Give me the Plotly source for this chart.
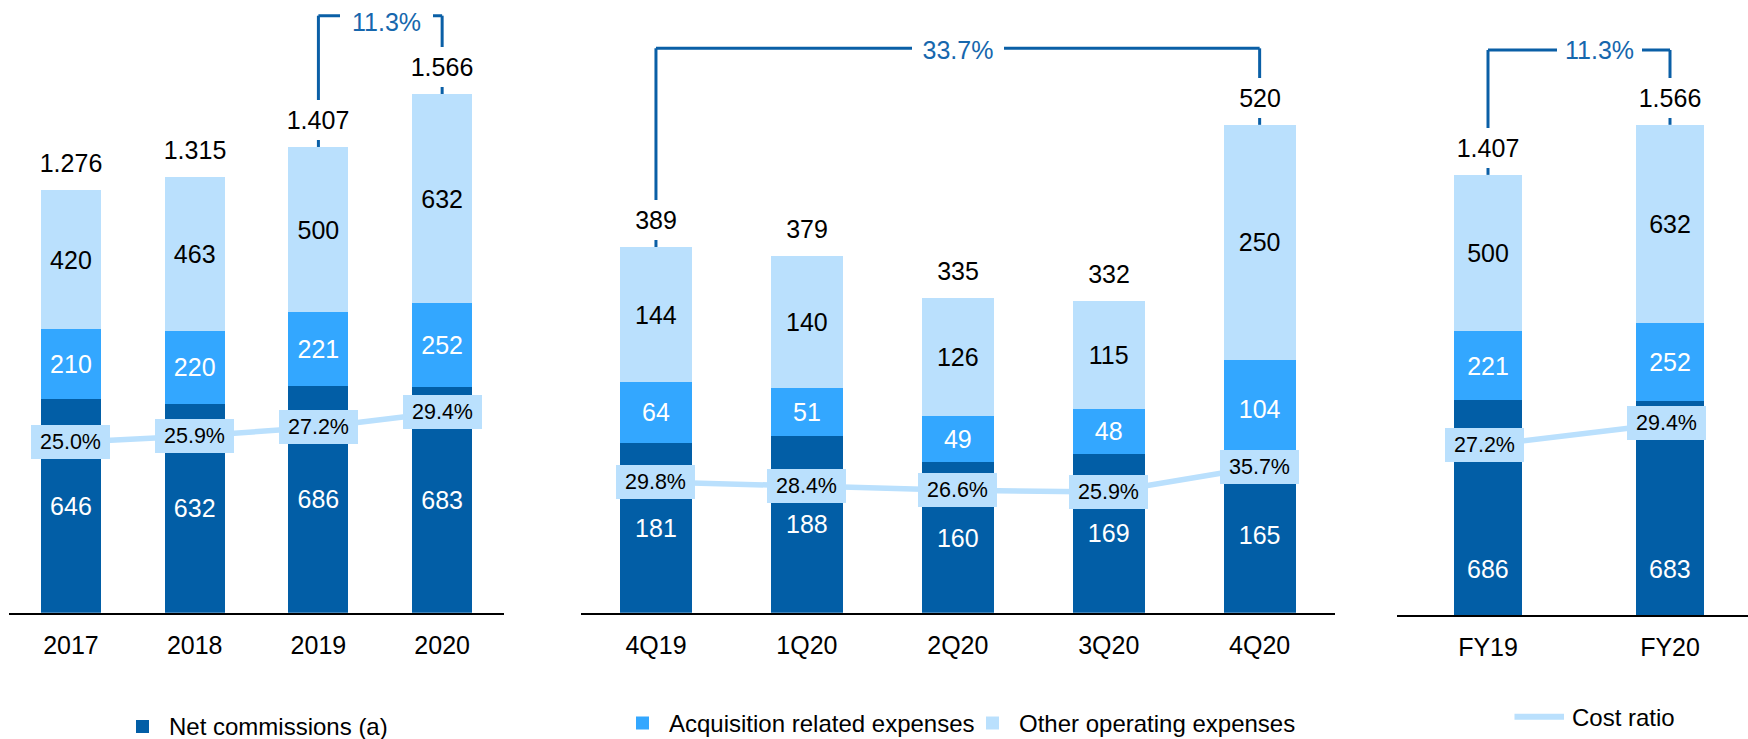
import plotly.graph_objects as go

# ---------------- data ----------------
years = ["2017", "2018", "2019", "2020"]
net_commissions_years = [646, 632, 686, 683]
acquisition_years = [210, 220, 221, 252]
other_opex_years = [420, 463, 500, 632]
totals_years = [1276, 1315, 1407, 1566]
cost_ratio_years = [25.0, 25.9, 27.2, 29.4]

quarters = ["4Q19", "1Q20", "2Q20", "3Q20", "4Q20"]
net_commissions_q = [181, 188, 160, 169, 165]
acquisition_q = [64, 51, 49, 48, 104]
other_opex_q = [144, 140, 126, 115, 250]
totals_q = [389, 379, 335, 332, 520]
cost_ratio_q = [29.8, 28.4, 26.6, 25.9, 35.7]

fiscal_years = ["FY19", "FY20"]
net_commissions_fy = [686, 683]
acquisition_fy = [221, 252]
other_opex_fy = [500, 632]
totals_fy = [1407, 1566]
cost_ratio_fy = [27.2, 29.4]

growth_labels = ["11.3%", "33.7%", "11.3%"]
growth_pairs = [("2019", "2020"), ("4Q19", "4Q20"), ("FY19", "FY20")]

series_names = ["Net commissions (a)", "Acquisition related expenses",
                "Other operating expenses", "Cost ratio"]

# ---------------- style ----------------
W, H = 1748, 739
FONT = "Liberation Sans, Arial, sans-serif"
DARK = "#025EA6"
MID = "#33A7FF"
LIGHT = "#BAE0FD"
BRACKET = "#0A5FA6"
BRACKET_TXT = "#1667AD"


def px_x(px):
    return px / W


def px_y(py):
    return 1 - py / H


panels = [
    dict(cats=years, net=net_commissions_years, acq=acquisition_years, oth=other_opex_years,
         tot=totals_years, cr=cost_ratio_years, xa="x", ya="y", ca="y4", width=0.485,
         xdom=(9.1, 504.0), base=612.7, yrange=(0, 1851), crange=(0, 89.84), xrange=(-0.5, 3.5),
         level=1803.6, gx=2.55, gy=1784.6, gw=93, crshift=0, net_inside=True),
    dict(cats=quarters, net=net_commissions_q, acq=acquisition_q, oth=other_opex_q,
         tot=totals_q, cr=cost_ratio_q, xa="x2", ya="y2", ca="y5", width=0.477,
         xdom=(580.5, 1335.1), base=612.7, yrange=(0, 651.8), crange=(-20.85, 216.45),
         xrange=(-0.5, 4.5), level=600.4, gx=2.0, gy=598.6, gw=92, crshift=0, net_inside=True),
    dict(cats=fiscal_years, net=net_commissions_fy, acq=acquisition_fy, oth=other_opex_fy,
         tot=totals_fy, cr=cost_ratio_fy, xa="x3", ya="y3", ca="y6", width=0.379,
         xdom=(1397.0, 1748.0), base=615.0, yrange=(0, 1966), crange=(9.97, 72.31),
         xrange=(-0.5, 1.4286), level=1806.3, gx=0.615, gy=1805.0, gw=85, crshift=-4,
         net_inside=False),
]

fig = go.Figure()
annotations = []
shapes = []

for i, p in enumerate(panels):
    cats = p["cats"]
    idx = list(range(len(cats)))  # category serial numbers for annotations/shapes
    # stacked bars
    for vals, color, tcolor, name, show_text in [
        (p["net"], DARK, "white", series_names[0], p["net_inside"]),
        (p["acq"], MID, "white", series_names[1], True),
        (p["oth"], LIGHT, "black", series_names[2], True),
    ]:
        fig.add_trace(go.Bar(
            x=cats, y=vals, name=name, marker=dict(color=color, line=dict(width=0)),
            width=p["width"], xaxis=p["xa"], yaxis=p["ya"],
            text=[str(v) for v in vals] if show_text else None,
            textposition="inside", insidetextanchor="middle", textangle=0,
            constraintext="none",
            textfont=dict(family=FONT, size=25, color=tcolor),
            showlegend=False, hoverinfo="skip",
        ))
    if not p["net_inside"]:
        for k, v in zip(idx, p["net"]):
            annotations.append(dict(x=k, y=0, xref=p["xa"], yref=p["ya"], text=str(v),
                                    showarrow=False, yanchor="middle", yshift=46,
                                    font=dict(family=FONT, size=25, color="white")))

    # cost ratio line
    fig.add_trace(go.Scatter(
        x=cats, y=p["cr"], mode="lines", name=series_names[3],
        line=dict(color=LIGHT, width=5.5), xaxis=p["xa"], yaxis=p["ca"],
        showlegend=False, hoverinfo="skip",
    ))
    for k, v in zip(idx, p["cr"]):
        annotations.append(dict(x=k, y=v, xref=p["xa"], yref=p["ca"], text=f"{v:.1f}%",
                                showarrow=False, bgcolor=LIGHT, width=79, height=34,
                                borderpad=0, borderwidth=0, xshift=p["crshift"],
                                font=dict(family=FONT, size=21.5, color="black")))

    # stacked totals
    stacked = [a + b + c for a, b, c in zip(p["net"], p["acq"], p["oth"])]

    # growth bracket
    a_cat, b_cat = growth_pairs[i]
    ia, ib = cats.index(a_cat), cats.index(b_cat)
    for k in (ia, ib):
        shapes.append(dict(type="line", xref=p["xa"], yref=p["ya"], x0=k, x1=k,
                           y0=stacked[k], y1=p["level"],
                           line=dict(color=BRACKET, width=3)))
    shapes.append(dict(type="line", xref=p["xa"], yref=p["ya"], x0=ia, x1=ib,
                       y0=p["level"], y1=p["level"], line=dict(color=BRACKET, width=3)))
    annotations.append(dict(x=p["gx"], y=p["gy"], xref=p["xa"], yref=p["ya"],
                            text=growth_labels[i], showarrow=False, bgcolor="white",
                            width=p["gw"], height=34, borderpad=0, borderwidth=0,
                            font=dict(family=FONT, size=25, color=BRACKET_TXT)))

    # total labels
    for k, s, t in zip(idx, stacked, p["tot"]):
        label = f"{t:,}".replace(",", ".")
        annotations.append(dict(x=k, y=s, xref=p["xa"], yref=p["ya"], text=label,
                                showarrow=False, bgcolor="white", width=86, height=40,
                                borderpad=0, borderwidth=0, yanchor="middle", yshift=27,
                                font=dict(family=FONT, size=25, color="black")))

# ---------------- legend (drawn as shapes + text) ----------------
legend_items = [
    dict(kind="box", color=DARK, x0=136, x1=149, y0=720, y1=733, tx=169, ty=726.5, text=series_names[0]),
    dict(kind="box", color=MID, x0=636, x1=649, y0=716.5, y1=729.5, tx=669, ty=723, text=series_names[1]),
    dict(kind="box", color=LIGHT, x0=986, x1=999, y0=716.5, y1=729.5, tx=1019, ty=723, text=series_names[2]),
    dict(kind="line", color=LIGHT, x0=1514.5, x1=1564, y0=716.7, y1=716.7, tx=1571.5, ty=717, text=series_names[3]),
]
for it in legend_items:
    if it["kind"] == "box":
        shapes.append(dict(type="rect", xref="paper", yref="paper",
                           x0=px_x(it["x0"]), x1=px_x(it["x1"]),
                           y0=px_y(it["y1"]), y1=px_y(it["y0"]),
                           fillcolor=it["color"], line=dict(width=0)))
    else:
        shapes.append(dict(type="line", xref="paper", yref="paper",
                           x0=px_x(it["x0"]), x1=px_x(it["x1"]),
                           y0=px_y(it["y0"]), y1=px_y(it["y1"]),
                           line=dict(color=it["color"], width=6)))
    annotations.append(dict(x=px_x(it["tx"]), y=px_y(it["ty"]), xref="paper", yref="paper",
                            text=it["text"], showarrow=False, xanchor="left", yanchor="middle",
                            borderpad=0, borderwidth=0,
                            font=dict(family=FONT, size=24, color="black")))

# ---------------- axes ----------------
layout_axes = {}
for i, p in enumerate(panels):
    n = "" if i == 0 else str(i + 1)
    layout_axes["xaxis" + n] = dict(
        domain=[px_x(p["xdom"][0]), px_x(p["xdom"][1])], anchor=p["ya"],
        type="category", range=list(p["xrange"]), showline=True, linecolor="black",
        linewidth=2, ticks="", showgrid=False, zeroline=False, fixedrange=True,
        tickfont=dict(family=FONT, size=25, color="black"), ticklabelstandoff=9,
    )
    layout_axes["yaxis" + n] = dict(
        domain=[px_y(p["base"]), 1.0], anchor=p["xa"], range=list(p["yrange"]),
        visible=False, showgrid=False, zeroline=False,
    )
    cn = str(i + 4)
    layout_axes["yaxis" + cn] = dict(
        overlaying=p["ya"], anchor=p["xa"], range=list(p["crange"]), visible=False,
        showgrid=False, zeroline=False,
    )

fig.update_layout(
    width=W, height=H, margin=dict(l=0, r=0, t=0, b=0),
    paper_bgcolor="white", plot_bgcolor="white",
    barmode="stack", showlegend=False,
    font=dict(family=FONT, size=25, color="black"),
    annotations=annotations, shapes=shapes,
    **layout_axes,
)

fig.write_html("out.html", config={"displayModeBar": False},
               post_script="document.body.style.margin='0px';")
